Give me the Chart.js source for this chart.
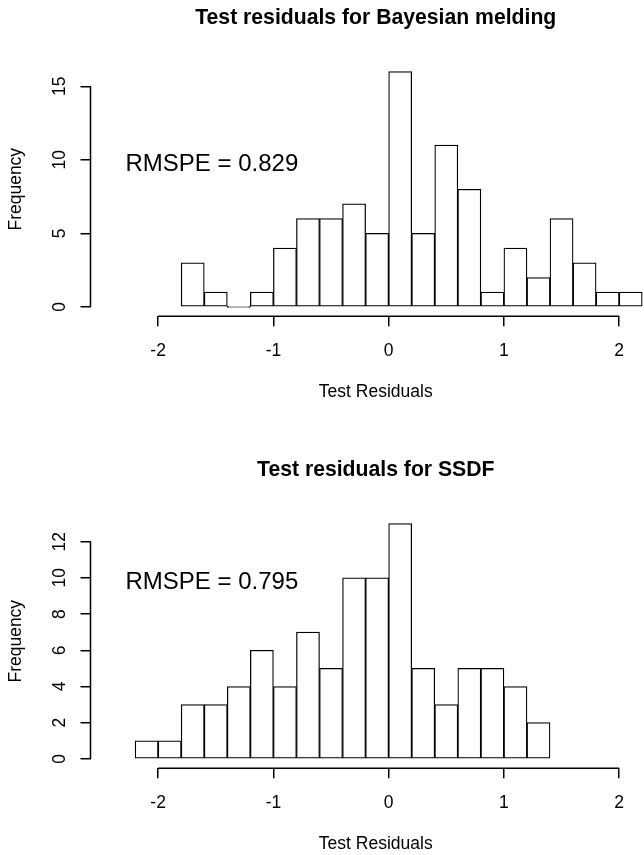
<!DOCTYPE html>
<html>
<head>
<meta charset="utf-8">
<script src="https://cdn.jsdelivr.net/npm/chart.js@4.4.1/dist/chart.umd.min.js"></script>
<style>
  html, body { margin: 0; padding: 0; background: #fff; overflow: hidden; }
  #wrap { position: relative; width: 644px; height: 855px; overflow: hidden; background: #fff; }
  canvas { position: absolute; left: 0; }
</style>
</head>
<body>
<div id="wrap">
  <canvas id="topChart" width="661" height="403" style="top:0px"></canvas>
  <canvas id="bottomChart" width="661" height="403" style="top:452px"></canvas>
</div>
<script>
// histogram data
const xTicks = [-2, -1, 0, 1, 2];

const breaksTop = [-1.8, -1.6, -1.4, -1.2, -1.0, -0.8, -0.6, -0.4, -0.2, 0.0, 0.2,
                   0.4, 0.6, 0.8, 1.0, 1.2, 1.4, 1.6, 1.8, 2.0, 2.2];
const countsTop = [3, 1, 0, 1, 4, 6, 6, 7, 5, 16, 5, 11, 8, 1, 4, 2, 6, 3, 1, 1];
const yTicksTop = [0, 5, 10, 15];

const breaksBottom = [-2.2, -2.0, -1.8, -1.6, -1.4, -1.2, -1.0, -0.8, -0.6, -0.4,
                      -0.2, 0.0, 0.2, 0.4, 0.6, 0.8, 1.0, 1.2, 1.4];
const countsBottom = [1, 1, 3, 3, 4, 6, 4, 7, 5, 10, 10, 13, 5, 3, 5, 5, 4, 2];
const yTicksBottom = [0, 2, 4, 6, 8, 10, 12];

const FONT = '"Liberation Sans", Arial, Helvetica, sans-serif';

// R-style axes: lines only span first..last tick, plus the RMSPE note
const rAxes = {
  id: 'rAxes',
  afterDraw(chart, args, opts) {
    const { ctx, chartArea, scales: { x, y } } = chart;
    ctx.save();
    ctx.strokeStyle = '#000';
    ctx.lineWidth = 1.5;
    ctx.beginPath();
    ctx.moveTo(x.getPixelForValue(xTicks[0]), chartArea.bottom);
    ctx.lineTo(x.getPixelForValue(xTicks[xTicks.length - 1]), chartArea.bottom);
    ctx.moveTo(chartArea.left, y.getPixelForValue(opts.yTicks[0]));
    ctx.lineTo(chartArea.left, y.getPixelForValue(opts.yTicks[opts.yTicks.length - 1]));
    ctx.stroke();

    // note text, centred at x = -1.53, caps centred on y = 10
    ctx.fillStyle = '#000';
    ctx.font = '24px ' + FONT;
    ctx.textAlign = 'center';
    ctx.textBaseline = 'alphabetic';
    ctx.fillText(opts.note, x.getPixelForValue(-1.534), y.getPixelForValue(10) + 10.8);
    ctx.restore();
  }
};

function makeHist(canvasId, title, breaks, counts, yTicks, note) {
  const points = counts.map((c, i) => ({ x: (breaks[i] + breaks[i + 1]) / 2, y: c }));
  const top = Math.max(...counts);

  return new Chart(document.getElementById(canvasId), {
    type: 'bar',
    data: {
      datasets: [{
        data: points,
        backgroundColor: '#fff',
        borderColor: '#000',
        borderWidth: 1.25,
        borderSkipped: false,
        minBarLength: 1.2,
        barPercentage: 1,
        categoryPercentage: 1
      }]
    },
    options: {
      responsive: false,
      animation: false,
      layout: { padding: 0 },
      plugins: {
        legend: { display: false },
        tooltip: { enabled: false },
        title: {
          display: true,
          text: title,
          fullSize: false,
          color: '#000',
          font: { family: FONT, size: 21.2, weight: 'bold', lineHeight: 1.2 },
          padding: { top: 5.7, bottom: 31.0 }
        },
        rAxes: { yTicks: yTicks, note: note }
      },
      scales: {
        x: {
          type: 'linear',
          min: -2.587,
          max: 2.363,
          offset: false,
          afterBuildTicks: s => { s.ticks = xTicks.map(v => ({ value: v })); },
          afterFit: s => { s.height = 403 - 316.3; },
          grid: { display: true, offset: false, drawOnChartArea: false, drawTicks: true,
                  tickLength: 10, color: '#000', lineWidth: 1.5 },
          border: { display: false },
          ticks: {
            color: '#000',
            padding: 14,
            autoSkip: false,
            maxRotation: 0,
            font: { family: FONT, size: 17.5 },
            callback: v => String(v)
          },
          title: {
            display: true,
            text: 'Test Residuals',
            color: '#000',
            font: { family: FONT, size: 17.5, lineHeight: 1.2 },
            padding: { top: 0, bottom: 0.8 }
          }
        },
        y: {
          type: 'linear',
          min: -0.04 * top,
          max: 1.04 * top,
          afterBuildTicks: s => { s.ticks = yTicks.map(v => ({ value: v })); },
          afterFit: s => { s.width = 90.5; },
          grid: { display: true, drawOnChartArea: false, drawTicks: true,
                  tickLength: 10, color: '#000', lineWidth: 1.5 },
          border: { display: false },
          ticks: {
            color: '#000',
            padding: 10.8,
            autoSkip: false,
            minRotation: 90,
            maxRotation: 90,
            crossAlign: 'center',
            font: { family: FONT, size: 17.5 },
            callback: v => String(v)
          },
          title: {
            display: true,
            text: 'Frequency',
            color: '#000',
            font: { family: FONT, size: 17.5, lineHeight: 1.2 },
            padding: { top: 5.2, bottom: 0 }
          }
        }
      }
    },
    plugins: [rAxes]
  });
}

makeHist('topChart', 'Test residuals for Bayesian melding', breaksTop, countsTop, yTicksTop, 'RMSPE = 0.829');
makeHist('bottomChart', 'Test residuals for SSDF', breaksBottom, countsBottom, yTicksBottom, 'RMSPE = 0.795');
</script>
</body>
</html>
